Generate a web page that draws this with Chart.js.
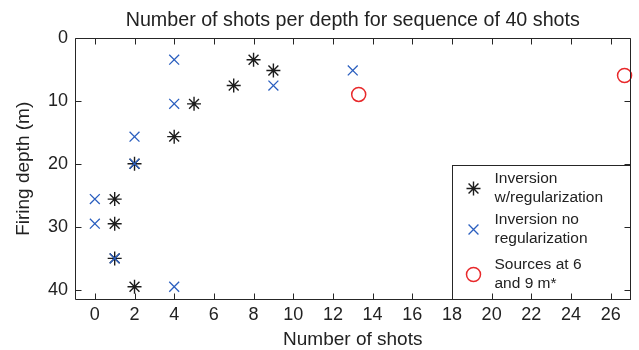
<!DOCTYPE html>
<html>
<head>
<meta charset="utf-8">
<script src="https://cdn.jsdelivr.net/npm/chart.js@4/dist/chart.umd.min.js"></script>
<style>
  html, body { margin: 0; padding: 0; background: #fff; }
  canvas { display: block; }
</style>
</head>
<body>
<canvas id="shotsChart" width="639" height="350"></canvas>
<script>
// --- data ---
const depths = [3.5, 5.2, 7.6, 10.5, 15.7, 20, 25.6, 29.5, 35, 39.5];
const shotsReg = [8, 9, 7, 5, 4, 2, 1, 1, 1, 2];        // inversion w/regularization
const shotsNoReg = [4, 13, 9, 4, 2, 2, 0, 0, 1, 4];     // inversion no regularization
const sourceDepths = [9, 6];
const sourceShots = [13.3, 26.7];                        // sources at 6 and 9 m*
const xTicks = [0, 2, 4, 6, 8, 10, 12, 14, 16, 18, 20, 22, 24, 26];
const yTicks = [0, 10, 20, 30, 40];
const legendLabels = [
    ['Inversion', 'w/regularization'],
    ['Inversion no', 'regularization'],
    ['Sources at 6', 'and 9 m*']
];

const FONT = "'Liberation Sans', Arial, sans-serif";
const INK = '#222222';
const BLACK = '#1c1c1c';
const BLUE = '#2b5fbf';
const RED = '#e8292b';

const toPoints = (xs, ys) => xs.map((v, i) => ({ x: v, y: ys[i] }));

const styles = [
    { pointStyle: 'star', radius: 7, color: BLACK, width: 1.4 },
    { pointStyle: 'crossRot', radius: 7, color: BLUE, width: 1.3 },
    { pointStyle: 'circle', radius: 7, color: RED, width: 1.5 }
];

const ctx = document.getElementById('shotsChart').getContext('2d');

new Chart(ctx, {
    type: 'scatter',
    data: {
        datasets: [
            { data: toPoints(shotsReg, depths), order: 2, ...styleOf(0) },
            { data: toPoints(shotsNoReg, depths), order: 1, ...styleOf(1) },
            { data: toPoints(sourceShots, sourceDepths), order: 0, ...styleOf(2) }
        ]
    },
    options: {
        responsive: false,
        devicePixelRatio: 1,
        animation: false,
        layout: { padding: { left: 0, right: 8, top: 0, bottom: 0 } },
        plugins: {
            legend: { display: false },
            tooltip: { enabled: false },
            title: {
                display: true,
                fullSize: false,
                text: 'Number of shots per depth for sequence of 40 shots',
                color: INK,
                font: { family: FONT, size: 19.7, weight: 'normal' },
                padding: { top: 9, bottom: 5 }
            }
        },
        scales: {
            x: {
                type: 'linear',
                min: -1, max: 27,
                afterBuildTicks: (s) => { s.ticks = xTicks.map(v => ({ value: v })); },
                afterFit: (s) => { s.height = 50; },
                grid: { display: false, drawTicks: false },
                border: { display: false },
                ticks: { color: INK, font: { family: FONT, size: 18 }, padding: 4, maxRotation: 0, autoSkip: false },
                title: {
                    display: true, text: 'Number of shots', color: INK,
                    font: { family: FONT, size: 19, lineHeight: 1 },
                    padding: { top: 0, bottom: 1 }
                }
            },
            y: {
                type: 'linear',
                reverse: true,
                min: 0, max: 41.6,
                afterBuildTicks: (s) => { s.ticks = yTicks.map(v => ({ value: v })); },
                afterFit: (s) => { s.width = 75; },
                grid: { display: false, drawTicks: false },
                border: { display: false },
                ticks: { color: INK, font: { family: FONT, size: 18 }, padding: 7, autoSkip: false },
                title: {
                    display: true, text: 'Firing depth (m)', color: INK,
                    font: { family: FONT, size: 19, lineHeight: 1 },
                    padding: { top: 14, bottom: 0 }
                }
            }
        }
    },
    plugins: [{
        id: 'matlabFrame',
        afterDatasetsDraw: (chart) => {
            // legend box sitting in the lower right corner of the axes
            const { ctx, chartArea: { right, bottom }, scales: { x } } = chart;
            const boxLeft = Math.round(x.getPixelForValue(18)) + 0.5;
            const boxTop = 165.5;
            ctx.save();
            ctx.fillStyle = '#fff';
            ctx.fillRect(boxLeft, boxTop, right - boxLeft, bottom - boxTop);
            ctx.strokeStyle = '#262626';
            ctx.lineWidth = 1;
            ctx.strokeRect(boxLeft, boxTop, Math.round(right) - 0.5 - boxLeft, Math.round(bottom) - 0.5 - boxTop);

            const rows = [179, 220, 265];
            ctx.font = `15.5px ${FONT}`;
            ctx.textAlign = 'left';
            ctx.textBaseline = 'middle';
            legendLabels.forEach((lines, i) => {
                const y0 = rows[i];
                ctx.fillStyle = INK;
                lines.forEach((t, j) => ctx.fillText(t, boxLeft + 42, y0 + j * 18.5));
                const st = styles[i];
                ctx.strokeStyle = st.color;
                ctx.fillStyle = 'rgba(0,0,0,0)';
                ctx.lineWidth = st.width;
                Chart.helpers.drawPoint(ctx, {
                    pointStyle: st.pointStyle, radius: st.radius, rotation: 0, borderWidth: st.width
                }, boxLeft + 21, y0 + 9.5);
            });
            ctx.restore();
        },
        afterDraw: (chart) => {
            const { ctx, chartArea: { left, right, top, bottom }, scales: { x, y } } = chart;
            const L = Math.round(left) + 0.5, R = Math.round(right) - 0.5;
            const T = Math.round(top) + 0.5, B = Math.round(bottom) - 0.5;
            const tick = 6;
            ctx.save();
            ctx.strokeStyle = '#262626';
            ctx.lineWidth = 1;
            ctx.beginPath();
            ctx.rect(L, T, R - L, B - T);
            xTicks.forEach(v => {
                const px = Math.round(x.getPixelForValue(v)) + 0.5;
                ctx.moveTo(px, B); ctx.lineTo(px, B - tick);
                ctx.moveTo(px, T); ctx.lineTo(px, T + tick);
            });
            yTicks.forEach(v => {
                const py = Math.round(y.getPixelForValue(v)) + 0.5;
                ctx.moveTo(L, py); ctx.lineTo(L + tick, py);
                ctx.moveTo(R, py); ctx.lineTo(R - tick, py);
            });
            ctx.stroke();
            ctx.restore();
        }
    }]
});

function styleOf(i) {
    const st = styles[i];
    return {
        pointStyle: st.pointStyle,
        pointRadius: st.radius,
        pointHoverRadius: st.radius,
        pointBorderWidth: st.width,
        borderColor: st.color,
        backgroundColor: 'rgba(0,0,0,0)',
        pointBackgroundColor: 'rgba(0,0,0,0)',
        pointBorderColor: st.color,
        clip: 10
    };
}
</script>
</body>
</html>
